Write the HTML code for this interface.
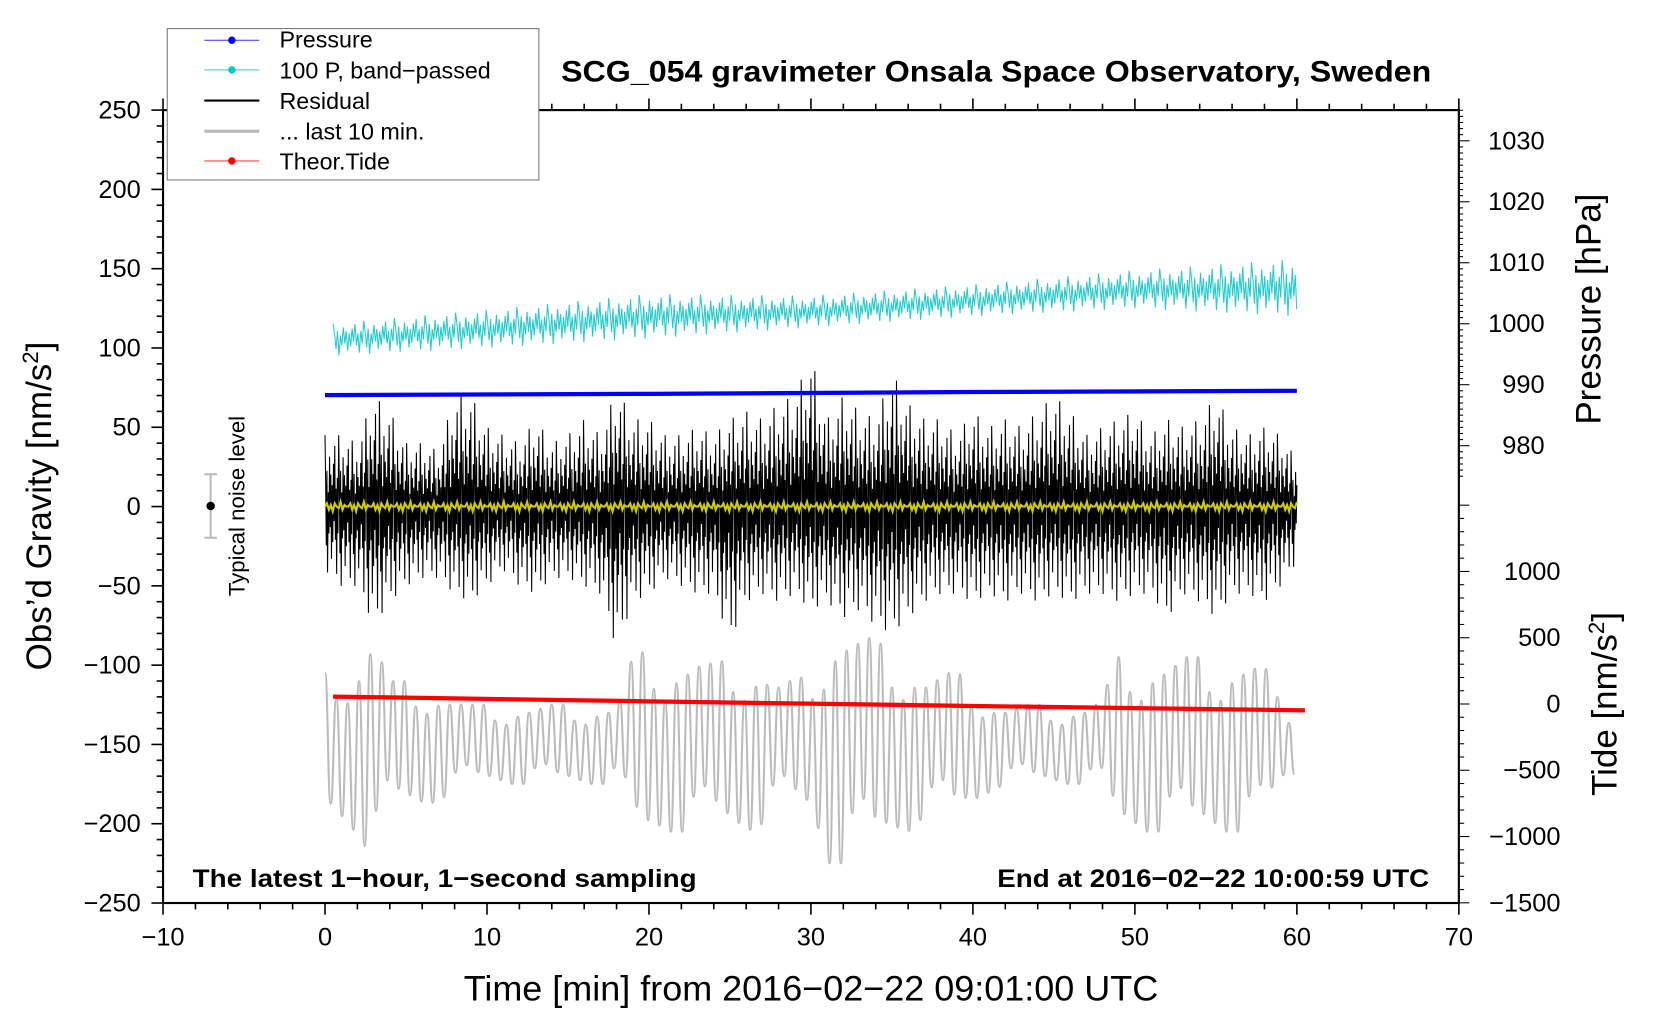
<!DOCTYPE html>
<html><head><meta charset="utf-8"><style>
html,body{margin:0;padding:0;background:#fff;}
svg{display:block;font-family:"Liberation Sans",sans-serif;}
</style></head><body>
<svg id="chart" width="1660" height="1020" viewBox="0 0 1568 963.5" preserveAspectRatio="none" xmlns="http://www.w3.org/2000/svg">
<rect width="1568" height="963.5" fill="#fff"/>
<g id="marks"></g>
<g id="axes"></g>
<rect x="154" y="104" width="1224" height="749" fill="none" stroke="#000" stroke-width="2"/>
<text x="530" y="77" font-size="28" font-weight="bold" textLength="822" lengthAdjust="spacingAndGlyphs">SCG_054 gravimeter Onsala Space Observatory, Sweden</text>
<text x="182" y="838" font-size="24" font-weight="bold" textLength="476" lengthAdjust="spacingAndGlyphs">The latest 1−hour, 1−second sampling</text>
<text x="942" y="838" font-size="24" font-weight="bold" textLength="408" lengthAdjust="spacingAndGlyphs">End at 2016−02−22 10:00:59 UTC</text>
<text x="438" y="945" font-size="33" textLength="656" lengthAdjust="spacingAndGlyphs">Time [min] from 2016−02−22 09:01:00 UTC</text>
<text transform="translate(48,478) rotate(-90)" font-size="33" text-anchor="middle">Obs’d Gravity [nm/s<tspan dy="-12" font-size="21">2</tspan><tspan dy="12">]</tspan></text>
<text transform="translate(1512,292) rotate(-90)" font-size="33" text-anchor="middle">Pressure [hPa]</text>
<text transform="translate(1527,665) rotate(-90)" font-size="33" text-anchor="middle">Tide [nm/s<tspan dy="-12" font-size="21">2</tspan><tspan dy="12">]</tspan></text>
<g>
<line x1="199" y1="448" x2="199" y2="508" stroke="#bbb" stroke-width="2"/>
<line x1="193" y1="448" x2="205" y2="448" stroke="#bbb" stroke-width="2"/>
<line x1="193" y1="508" x2="205" y2="508" stroke="#bbb" stroke-width="2"/>
<circle cx="199" cy="478" r="4" fill="#000"/>
<text transform="translate(231,478) rotate(-90)" font-size="21" text-anchor="middle">Typical noise level</text>
</g>
<g>
<rect x="158" y="27" width="351" height="143" fill="#fff" stroke="#777" stroke-width="1"/>
<g><line x1="193" y1="38" x2="245" y2="38" stroke="#33f" stroke-width="1"/><circle cx="219" cy="38" r="3.5" fill="#00f"/><text x="264" y="45" font-size="22">Pressure</text></g>
<g><line x1="193" y1="66" x2="245" y2="66" stroke="#3cc" stroke-width="1"/><circle cx="219" cy="66" r="3.5" fill="#0cc"/><text x="264" y="74" font-size="22">100 P, band−passed</text></g>
<g><line x1="193" y1="95" x2="245" y2="95" stroke="#000" stroke-width="2"/><text x="264" y="103" font-size="22">Residual</text></g>
<g><line x1="193" y1="124" x2="245" y2="124" stroke="#bbb" stroke-width="3"/><text x="264" y="132" font-size="22">... last 10 min.</text></g>
<g><line x1="193" y1="152" x2="245" y2="152" stroke="#f44" stroke-width="1"/><circle cx="219" cy="152" r="3.5" fill="#f00"/><text x="264" y="160" font-size="22">Theor.Tide</text></g>
</g>
<script>
// ---- data ----
const minutes = [0,1,2,3,4,5,6,7,8,9,10,11,12,13,14,15,16,17,18,19,20,21,22,23,24,25,26,27,28,29,30,31,32,33,34,35,36,37,38,39,40,41,42,43,44,45,46,47,48,49,50,51,52,53,54,55,56,57,58,59,60];
const residualMax = [45,45,40,70,60,40,40,35,70,70,50,45,40,55,40,45,55,45,75,55,55,45,45,50,45,55,60,55,65,70,95,55,70,60,55,85,65,55,55,45,60,50,55,50,60,70,60,45,50,55,60,45,55,50,55,70,50,45,50,45,30];
const residualMin = [-40,-50,-50,-75,-60,-50,-45,-45,-55,-60,-50,-40,-50,-55,-45,-45,-50,-55,-90,-60,-55,-45,-50,-55,-55,-85,-60,-55,-60,-55,-65,-60,-70,-65,-75,-80,-70,-60,-55,-55,-60,-55,-60,-55,-60,-55,-60,-55,-55,-60,-55,-55,-70,-55,-60,-70,-55,-55,-60,-50,-35];
const residualShape = [1,0.35,-0.6,0.5,-1,0.2,-0.4,0.7,-0.3,0.45,-0.75,0.3,-0.5,0.6,-0.2,0.85,-0.45,0.25,-0.9,0.4,-0.35];
const lastTenCenter = -150;
const lastTenAmp = [45,50,55,75,40,40,40,35,30,25,25,25,25,25,25,25,25,25,25,55,60,55,55,55,50,55,55,50,40,40,45,75,75,70,65,60,55,45,45,45,40,30,25,25,25,25,25,25,30,55,55,55,55,55,55,55,55,55,50,25,20];
const lastTenShape = [1,0.8,0.6,0.9,0.5,1,0.7];
const bandMidMin = [0,10,20,30,40,50,60];
const bandMid = [105,112,120,123,130,137,138];
const bandAmp = [10,12,14,10,10,12,18];
const pressureMin = [0,20,40,60];
const pressure = [988.3,988.5,988.8,989.0];
const tideMin = [0.5,20,40,60.5];
const tide = [56,20,-15,-48];
const yellowWiggle = [0,2,-2,1,-3,2,0,-1,3,-2,1,0];
const xTicks = [-10,0,10,20,30,40,50,60,70];
const yTicks = [250,200,150,100,50,0,-50,-100,-150,-200,-250];
const pTicks = [1030,1020,1010,1000,990,980];
const tTicks = [1000,500,0,-500,-1000,-1500];
// ---- scales ----
const X = t => 154 + (t + 10) * (1224 / 80);
const Y = g => 104 + (250 - g) * (749 / 500);
const YP = p => 133 + (1030 - p) * 5.76;
const YT = v => 665 - v * 0.1252;
const lerp = (xs, ys, x) => { for (let i = 0; i < xs.length - 1; i++) { if (x <= xs[i+1]) { const f = (x - xs[i]) / (xs[i+1] - xs[i]); return ys[i] + f * (ys[i+1] - ys[i]); } } return ys[ys.length-1]; };
const NS = "http://www.w3.org/2000/svg";
const marks = document.getElementById('marks');
const axes = document.getElementById('axes');
function mk(tag, parent, attrs) { const e = document.createElementNS(NS, tag); for (const k in attrs) e.setAttribute(k, attrs[k]); parent.appendChild(e); return e; }
// gray last 10 min (smooth curve through alternating peaks)
let peaks = [];
let k = 0;
for (let t = 0; t <= 60.001; t += 0.35, k++) {
  const a = lerp(minutes, lastTenAmp, t) * lastTenShape[k % lastTenShape.length];
  const s = k % 2 === 0 ? 1 : -1;
  peaks.push([X(t), Y(lastTenCenter + s * a)]);
}
let d = 'M' + peaks[0][0].toFixed(1) + ',' + peaks[0][1].toFixed(1);
for (let i = 1; i < peaks.length; i++) {
  const [x0,y0] = peaks[i-1], [x1,y1] = peaks[i];
  const mx = (x0 + x1) / 2;
  d += ' C' + mx.toFixed(1) + ',' + y0.toFixed(1) + ' ' + mx.toFixed(1) + ',' + y1.toFixed(1) + ' ' + x1.toFixed(1) + ',' + y1.toFixed(1);
}
const gray = mk('path', marks, {d: d, fill: 'none', stroke: '#bbb', 'stroke-width': 2});


// band-passed pressure
let pts = []; k = 0;
for (let t = 0.5; t <= 60.001; t += 0.09, k++) {
  const m = lerp(bandMidMin, bandMid, t), a = lerp(bandMidMin, bandAmp, t);
  const f = residualShape[k % residualShape.length];
  pts.push(X(t).toFixed(1) + ',' + Y(m + f * a).toFixed(1));
}
const cy = mk('polyline', marks, {points: pts.join(' '), fill: 'none', stroke: '#2cc', 'stroke-width': 1});


// residual
pts = []; k = 0;
for (let t = 0; t <= 60.001; t += 0.04, k++) {
  const f = residualShape[k % residualShape.length];
  const v = f >= 0 ? f * lerp(minutes, residualMax, t) : -f * lerp(minutes, residualMin, t);
  pts.push(X(t).toFixed(1) + ',' + Y(v).toFixed(1));
}
const res = mk('polyline', marks, {points: pts.join(' '), fill: 'none', stroke: '#000', 'stroke-width': 1});


// yellow
pts = []; k = 0;
for (let t = 0; t <= 60.001; t += 0.12, k++) pts.push(X(t).toFixed(1) + ',' + Y(yellowWiggle[k % yellowWiggle.length]).toFixed(1));
const yl = mk('polyline', marks, {points: pts.join(' '), fill: 'none', stroke: '#cc0', 'stroke-width': 2});


// pressure
const pl = mk('polyline', marks, {points: pressureMin.map((t,i)=>X(t)+','+YP(pressure[i])).join(' '), fill: 'none', stroke: '#00f', 'stroke-width': 4});


// tide
const tl = mk('polyline', marks, {points: tideMin.map((t,i)=>X(t)+','+YT(tide[i])).join(' '), fill: 'none', stroke: '#f00', 'stroke-width': 4});


// axes ticks
function tick(x1,y1,x2,y2,w){ mk('line', axes, {x1,y1,x2,y2,stroke:'#000','stroke-width':w||1.5}); }
for (let t = -10; t <= 70; t += 2) { const big = t % 10 === 0; tick(X(t),853,X(t),853+(big?11:6)); tick(X(t),104,X(t),104-(big?11:6)); }
for (let g = -250; g <= 250; g += 10) { const big = g % 50 === 0; tick(154-(big?11:6),Y(g),154,Y(g)); }
for (let p = 975; p <= 1035; p += 1) { const big = p % 10 === 0; tick(1378,YP(p),1378+(big?10:4),YP(p),1); }
for (let v = -1500; v <= 1500; v += 100) { const big = v % 500 === 0; tick(1378,YT(v),1378+(big?10:5),YT(v),1); }
xTicks.forEach(t => { const e = mk('text', axes, {x: X(t), y: 893, 'font-size': 24, 'text-anchor': 'middle'}); e.textContent = String(t).replace('-', '−');
    });
yTicks.forEach(g => { const e = mk('text', axes, {x: 133, y: Y(g)+8, 'font-size': 24, 'text-anchor': 'end'}); e.textContent = String(g).replace('-', '−');
    });
pTicks.forEach(p => { const e = mk('text', axes, {x: 1459, y: YP(p)+8, 'font-size': 24, 'text-anchor': 'end'}); e.textContent = String(p);
    });
tTicks.forEach(v => { const e = mk('text', axes, {x: 1474, y: YT(v)+8, 'font-size': 24, 'text-anchor': 'end'}); e.textContent = String(v).replace('-', '−');
    });
</script>
</svg>
</body></html>
